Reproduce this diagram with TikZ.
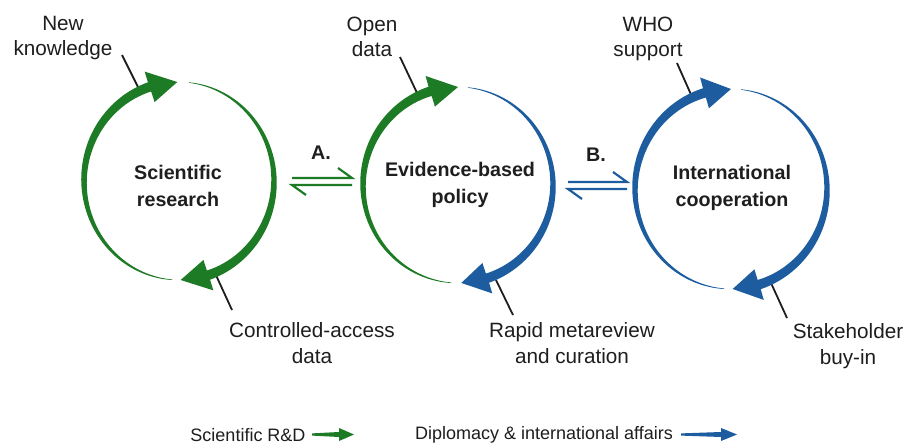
\documentclass[tikz,border=0pt]{standalone}
\usepackage{fontspec}
\setmainfont{Liberation Sans}
\definecolor{cgreen}{HTML}{1E7B25}
\definecolor{cblue}{HTML}{1C5C9F}
\definecolor{ctext}{HTML}{1E1E1E}
% tapered circular arrow: #1 colour, #2 start angle (thin end), #3 base angle of head, #4 tip angle
\newcommand\taparc[4]{%
 \fill[#1] plot[domain=0:1,samples=70] ({\cx+(\rx+(0.25+4.6*\x))*cos(#2+(#3-#2)*\x)},{\cy-(\ry+(0.25+4.6*\x))*sin(#2+(#3-#2)*\x)})
 -- ({\cx+(\rx+16)*cos(#3)},{\cy-(\ry+16)*sin(#3)})
 -- ({\cx+\rx*cos(#4)},{\cy-\ry*sin(#4)})
 -- ({\cx+(\rx-16)*cos(#3)},{\cy-(\ry-16)*sin(#3)})
 -- plot[domain=0:1,samples=70] ({\cx+(\rx-(4.85-4.6*\x))*cos(#3+(#2-#3)*\x)},{\cy-(\ry-(4.85-4.6*\x))*sin(#3+(#2-#3)*\x)})
 -- cycle;}
\tikzset{
 lbl/.style={text=ctext,align=center,inner sep=0pt,font=\fontsize{20.7}{25.5}\selectfont},
 ttl/.style={text=ctext,align=center,inner sep=0pt,font=\bfseries\fontsize{19.7}{27}\selectfont},
 leg/.style={text=ctext,inner sep=0pt,font=\fontsize{18}{22}\selectfont},
 callout/.style={draw=ctext,line width=1.8pt},
 eqline/.style={line width=2.2pt}
}
\begin{document}
\begin{tikzpicture}[x=1pt,y=-1pt]
\useasboundingbox[fill=white] (0,0) rectangle (908,444);

% centres
\coordinate (c1) at (179,181);
\coordinate (c2) at (458,185);
\coordinate (c3) at (731,189);

% callout lines (drawn beneath arrows)
\coordinate (k1) at (122,55);  \coordinate (k2) at (140,91);
\coordinate (d1) at (215,273); \coordinate (d2) at (232,310);
\coordinate (o1) at (400,57);  \coordinate (o2) at (418,95);
\coordinate (r1) at (496,280); \coordinate (r2) at (513,315);
\coordinate (w1) at (677,63);  \coordinate (w2) at (693,99);
\coordinate (s1) at (771,283); \coordinate (s2) at (787,318);
\draw[callout] (k1) -- (k2);
\draw[callout] (d1) -- (d2);
\draw[callout] (o1) -- (o2);
\draw[callout] (r1) -- (r2);
\draw[callout] (w1) -- (w2);
\draw[callout] (s1) -- (s2);

% circle 1
\def\cx{179}\def\cy{181}\def\rx{95}\def\ry{99}
\taparc{cgreen}{266}{108}{91}
\taparc{cgreen}{84}{-72}{-89}
% circle 2
\def\cx{458}\def\cy{185}\def\rx{95}\def\ry{98}
\taparc{cgreen}{266}{107}{90}
\taparc{cblue}{84}{-72}{-88}
% circle 3
\def\cx{731}\def\cy{189}\def\rx{96}\def\ry{100}
\taparc{cblue}{266}{106}{90}
\taparc{cblue}{84}{-73}{-89}

% titles
\node[ttl] (t1) at (178,186) {Scientific\\research};
\node[ttl] (t2) at (460,185) {Evidence-based\\policy};
\node[ttl] (t3) at (732,188) {International\\cooperation};

% labels
\node[lbl] (lk) at (63,38) {New\\knowledge};
\node[lbl] (lo) at (372,37) {Open\\data};
\node[lbl] (lw) at (648,39) {WHO\\support};
\node[lbl] (ld) at (312,343) {Controlled-access\\data};
\node[lbl] (lr) at (572,343) {Rapid metareview\\and curation};
\node[lbl] (ls) at (848,346) {Stakeholder\\buy-in};

% equilibrium arrows
\node[ttl] (la) at (321,153) {A.};
\coordinate (a1) at (292,178); \coordinate (a2) at (352,178); \coordinate (a3) at (338,168);
\coordinate (a4) at (292,185); \coordinate (a5) at (352,185); \coordinate (a6) at (306,195);
\draw[eqline,cgreen] (a1) -- (a2) -- (a3);
\draw[eqline,cgreen] (a5) -- (a4) -- (a6);
\node[ttl] (lb) at (596,155) {B.};
\coordinate (b1) at (568,182); \coordinate (b2) at (627,182); \coordinate (b3) at (613,172);
\coordinate (b4) at (568,189); \coordinate (b5) at (627,189); \coordinate (b6) at (582,199);
\draw[eqline,cblue] (b1) -- (b2) -- (b3);
\draw[eqline,cblue] (b5) -- (b4) -- (b6);

% legend
\node[leg] (g1) at (248,435) {Scientific R\&D};
\node[leg] (g2) at (544,435) {Diplomacy \& international affairs};
\fill[cgreen] (312,433.4) -- (339,432) -- (339,428) -- (354,434.5) -- (339,441) -- (339,437) -- (312,435.6) -- cycle;
\fill[cblue] (681,433.4) -- (721,432) -- (721,428) -- (737,434.5) -- (721,441) -- (721,437) -- (681,435.6) -- cycle;
\end{tikzpicture}
\end{document}
